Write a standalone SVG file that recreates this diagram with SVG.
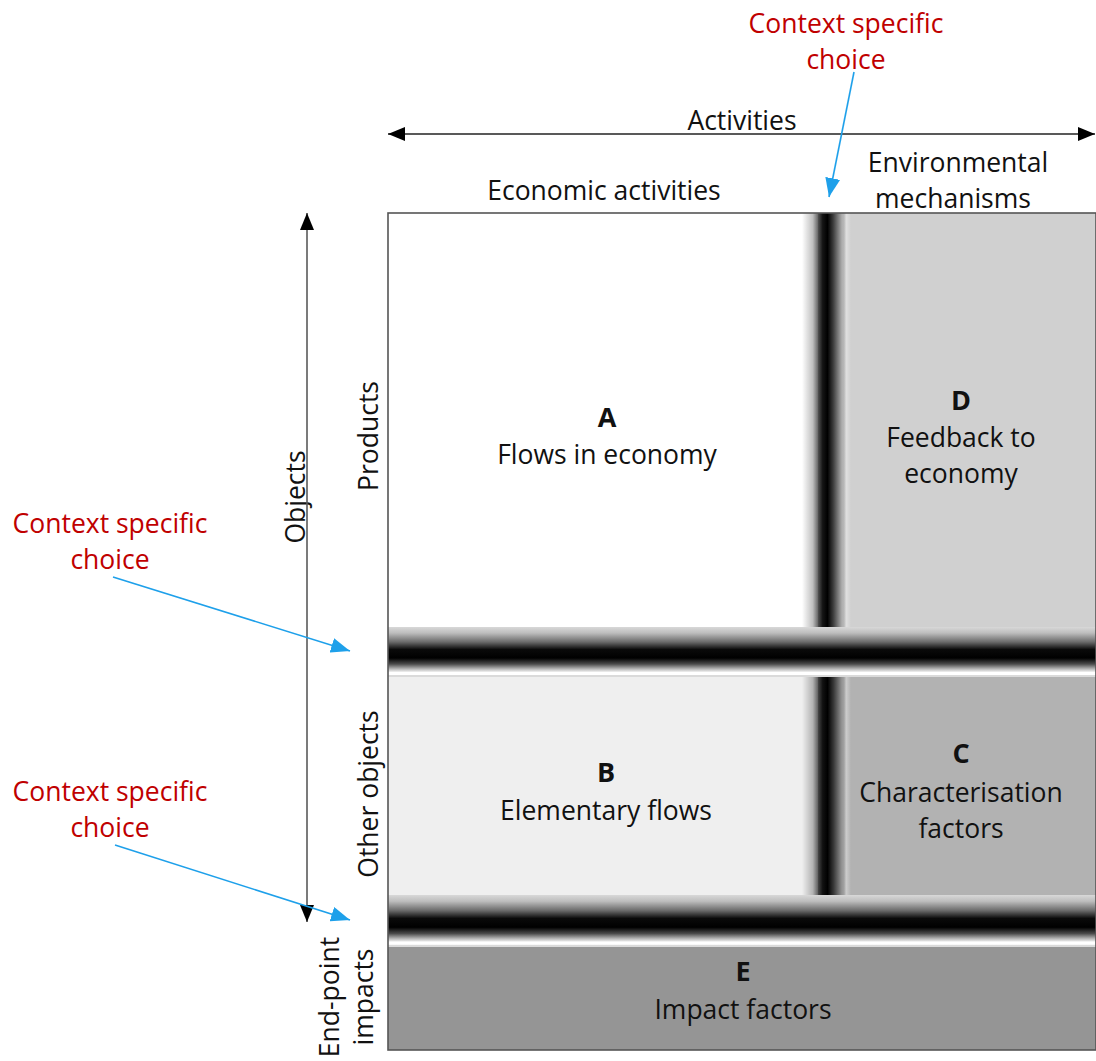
<svg xmlns="http://www.w3.org/2000/svg" width="1096" height="1061" viewBox="0 0 1096 1061">
  <style>
    text { font-family: "Open Sans", "Liberation Sans", sans-serif; font-size: 26.5px; fill: #111; text-anchor: middle; }
    .red { fill: #c00000; }
    .big { font-weight: bold; font-size: 27px; }
    .blue { stroke: #1ea0ea; stroke-width: 1.6; fill: none; }
    .axis { stroke: #222; stroke-width: 1.6; fill: none; }
    .vaxis { stroke: #5a5a5a; stroke-width: 1.6; fill: none; }
  </style>
  <defs>
    <marker id="arrBlack" markerUnits="userSpaceOnUse" markerWidth="20" markerHeight="16" refX="17" refY="7" orient="auto-start-reverse">
      <path d="M0,0 L17,7 L0,14 Z" fill="#000"/>
    </marker>
    <marker id="arrBlue" markerUnits="userSpaceOnUse" markerWidth="22" markerHeight="16" refX="19" refY="7.5" orient="auto">
      <path d="M0,0 L19,7.5 L0,15 Z" fill="#1ea0ea"/>
    </marker>
    <!-- soft dark divider, vertical -->
    <linearGradient id="vBar" x1="0" y1="0" x2="1" y2="0">
      <stop offset="0" stop-color="#000" stop-opacity="0"/>
      <stop offset="0.22" stop-color="#000" stop-opacity="0.25"/>
      <stop offset="0.42" stop-color="#000" stop-opacity="0.9"/>
      <stop offset="0.52" stop-color="#000" stop-opacity="1"/>
      <stop offset="0.64" stop-color="#000" stop-opacity="0.7"/>
      <stop offset="0.82" stop-color="#000" stop-opacity="0.15"/>
      <stop offset="0.9" stop-color="#fff" stop-opacity="0.35"/>
      <stop offset="1" stop-color="#fff" stop-opacity="0"/>
    </linearGradient>
    <!-- soft dark divider, horizontal, with a bright seam below -->
    <linearGradient id="hBar" x1="0" y1="0" x2="0" y2="1">
      <stop offset="0" stop-color="#d8d8d8"/>
      <stop offset="0.12" stop-color="#bdbdbd"/>
      <stop offset="0.3" stop-color="#6a6a6a"/>
      <stop offset="0.45" stop-color="#0a0a0a"/>
      <stop offset="0.62" stop-color="#000"/>
      <stop offset="0.74" stop-color="#4a4a4a"/>
      <stop offset="0.84" stop-color="#b8b8b8"/>
      <stop offset="0.89" stop-color="#e8e8e8"/>
      <stop offset="0.9" stop-color="#fff"/>
      <stop offset="0.95" stop-color="#fff"/>
      <stop offset="0.96" stop-color="#dadada"/>
      <stop offset="1" stop-color="#dadada"/>
    </linearGradient>
  </defs>

  <!-- matrix cells -->
  <g id="cellA"><rect x="388" y="213" width="430" height="414" fill="#ffffff"/></g>
  <g id="cellD"><rect x="818" y="213" width="278" height="414" fill="#d0d0d0"/></g>
  <g id="cellB"><rect x="388" y="677" width="430" height="220" fill="#efefef"/></g>
  <g id="cellC"><rect x="818" y="677" width="278" height="220" fill="#b2b2b2"/></g>
  <g id="cellE"><rect x="388" y="947" width="708" height="103" fill="#959595"/></g>

  <!-- dividers -->
  <g id="dividers">
    <rect x="802" y="213" width="49" height="684" fill="url(#vBar)"/>
    <rect x="388" y="627" width="708" height="50" fill="url(#hBar)"/>
    <rect x="388" y="895" width="708" height="52" fill="url(#hBar)"/>
  </g>

  <!-- frame -->
  <rect x="388" y="213" width="708" height="837" fill="none" stroke="#555" stroke-width="1.6"/>

  <!-- cell labels -->
  <g id="labelA">
    <text class="big" x="607" y="427">A</text>
    <text x="607" y="464">Flows in economy</text>
  </g>
  <g id="labelD">
    <text class="big" x="961" y="410">D</text>
    <text x="961" y="447">Feedback to</text>
    <text x="961" y="483">economy</text>
  </g>
  <g id="labelB">
    <text class="big" x="606" y="782">B</text>
    <text x="606" y="820">Elementary flows</text>
  </g>
  <g id="labelC">
    <text class="big" x="961" y="763">C</text>
    <text x="961" y="802">Characterisation</text>
    <text x="961" y="838">factors</text>
  </g>
  <g id="labelE">
    <text class="big" x="743" y="981">E</text>
    <text x="743" y="1019">Impact factors</text>
  </g>

  <!-- axis headings -->
  <g id="headings">
    <text x="742" y="130">Activities</text>
    <text x="604" y="200">Economic activities</text>
    <text x="958" y="172">Environmental</text>
    <text x="953" y="208">mechanisms</text>
    <text transform="translate(305,497) rotate(-90)">Objects</text>
    <text transform="translate(378,436) rotate(-90)">Products</text>
    <text transform="translate(378,794) rotate(-90)">Other objects</text>
    <text transform="translate(339,997) rotate(-90)">End-point</text>
    <text transform="translate(373,997) rotate(-90)">impacts</text>
  </g>

  <!-- notes -->
  <g id="note1">
    <text class="red" x="846" y="33">Context specific</text>
    <text class="red" x="846" y="69">choice</text>
  </g>
  <g id="note2">
    <text class="red" x="110" y="533">Context specific</text>
    <text class="red" x="110" y="569">choice</text>
  </g>
  <g id="note3">
    <text class="red" x="110" y="801">Context specific</text>
    <text class="red" x="110" y="837">choice</text>
  </g>

  <!-- connectors -->
  <g id="connectors">
    <line class="axis" x1="388" y1="134" x2="1095" y2="134" marker-start="url(#arrBlack)" marker-end="url(#arrBlack)"/>
    <line class="vaxis" x1="307" y1="213" x2="307" y2="922" marker-start="url(#arrBlack)" marker-end="url(#arrBlack)"/>
    <line class="blue" x1="854" y1="72" x2="829" y2="197" marker-end="url(#arrBlue)"/>
    <line class="blue" x1="113" y1="577" x2="350" y2="651" marker-end="url(#arrBlue)"/>
    <line class="blue" x1="115" y1="845" x2="350" y2="920" marker-end="url(#arrBlue)"/>
  </g>
</svg>
